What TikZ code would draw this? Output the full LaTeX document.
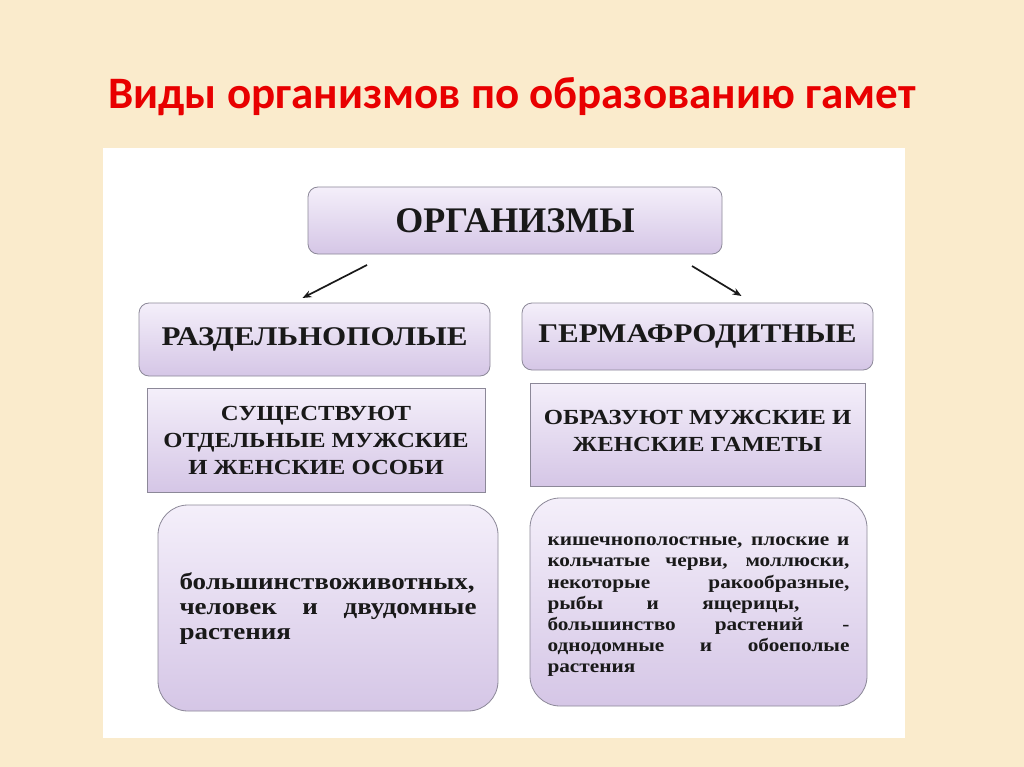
\documentclass[tikz,border=0pt]{standalone}
\usepackage{fontspec}
\setmainfont{Liberation Serif}
\newfontfamily\titlefont{Carlito}
\newfontfamily\boxfont[FakeStretch=1.15]{Liberation Serif}
\newfontfamily\orgfont{Liberation Serif}
\usetikzlibrary{arrows.meta}
\definecolor{bgcream}{HTML}{FAEBCC}
\definecolor{titlered}{HTML}{E80000}
\definecolor{lavtop}{HTML}{F4EFFA}
\definecolor{lavbot}{HTML}{D5C6E6}
\definecolor{boxline}{HTML}{8C8898}
\tikzset{
  every node/.style={inner sep=0pt, outer sep=0pt},
  lav/.style={draw=boxline, line width=0.8pt, top color=lavtop, bottom color=lavbot, anchor=north west},
  topbox/.style={lav, rounded corners=10pt},
  midbox/.style={lav},
  botbox/.style={lav, rounded corners=30pt},
  hdr/.style={font=\boxfont\bfseries\fontsize{27}{30}\selectfont, text=black!90},
  sub/.style={font=\boxfont\bfseries\fontsize{21.5}{27}\selectfont, text=black!90, align=center},
  arr/.style={-{Stealth[length=9pt,width=7pt]}, line width=1.7pt, black!90}
}
\begin{document}
\begin{tikzpicture}[x=1pt,y=-1pt]
\useasboundingbox (0,0) rectangle (1024,767);
\fill[bgcream] (0,0) rectangle (1024,767);
\node[font=\titlefont\bfseries\fontsize{45}{48}\selectfont, text=titlered] (title) at (512,97) {Виды организмов по образованию гамет};
\fill[white] (103,148) rectangle (905,738);
% boxes
\node[topbox, minimum width=414pt, minimum height=67pt] (org) at (308,187) {};
\node[font=\orgfont\bfseries\fontsize{36}{40}\selectfont, text=black!90] (orgt) at (org.center) {ОРГАНИЗМЫ};
\node[topbox, minimum width=351pt, minimum height=73pt] (razd) at (139,303) {};
\node[hdr] (razdt) at (razd.center) {РАЗДЕЛЬНОПОЛЫЕ};
\node[topbox, minimum width=351pt, minimum height=67pt] (germ) at (522,303) {};
\node[hdr] (germt) at (germ.center) {ГЕРМАФРОДИТНЫЕ};
\node[midbox, minimum width=338pt, minimum height=104pt] (sush) at (147,388) {};
\node[sub] (susht) at (sush.center) {СУЩЕСТВУЮТ\\ОТДЕЛЬНЫЕ МУЖСКИЕ\\И ЖЕНСКИЕ ОСОБИ};
\node[midbox, minimum width=335pt, minimum height=103pt] (obr) at (530,383) {};
\node[sub] (obrt) at ([yshift=4pt]obr.center) {ОБРАЗУЮТ МУЖСКИЕ И\\ЖЕНСКИЕ ГАМЕТЫ};
\node[botbox, minimum width=340pt, minimum height=206pt] (bl) at (158,505) {};
\node[font=\boxfont\bfseries\fontsize{23.5}{25}\selectfont, text=black!90, align=left] (blt) at ([yshift=-1pt]bl.center)
 {\makebox[297pt][s]{большинствоживотных,}\\
  \makebox[297pt][s]{человек и двудомные}\\
  растения};
\node[botbox, minimum width=337pt, minimum height=208pt] (br) at (530,498) {};
\node[font=\boxfont\bfseries\fontsize{18.5}{21.2}\selectfont, text=black!90, align=left] (brt) at ([yshift=-5pt]br.center)
 {\makebox[302pt][s]{кишечнополостные, плоские и}\\
  \makebox[302pt][s]{кольчатые черви, моллюски,}\\
  \makebox[302pt][s]{некоторые ракообразные,}\\
  \makebox[252pt][s]{рыбы и ящерицы,}\hspace{50pt}\\
  \makebox[302pt][s]{большинство растений -}\\
  \makebox[302pt][s]{однодомные и обоеполые}\\
  растения};
% arrows
\draw[arr] ([xshift=-148pt,yshift=-11pt]org.south) -- ([xshift=-12pt,yshift=5pt]razd.north);
\draw[arr] ([xshift=177pt,yshift=-12pt]org.south) -- ([xshift=44pt,yshift=7pt]germ.north);
\end{tikzpicture}
\end{document}
